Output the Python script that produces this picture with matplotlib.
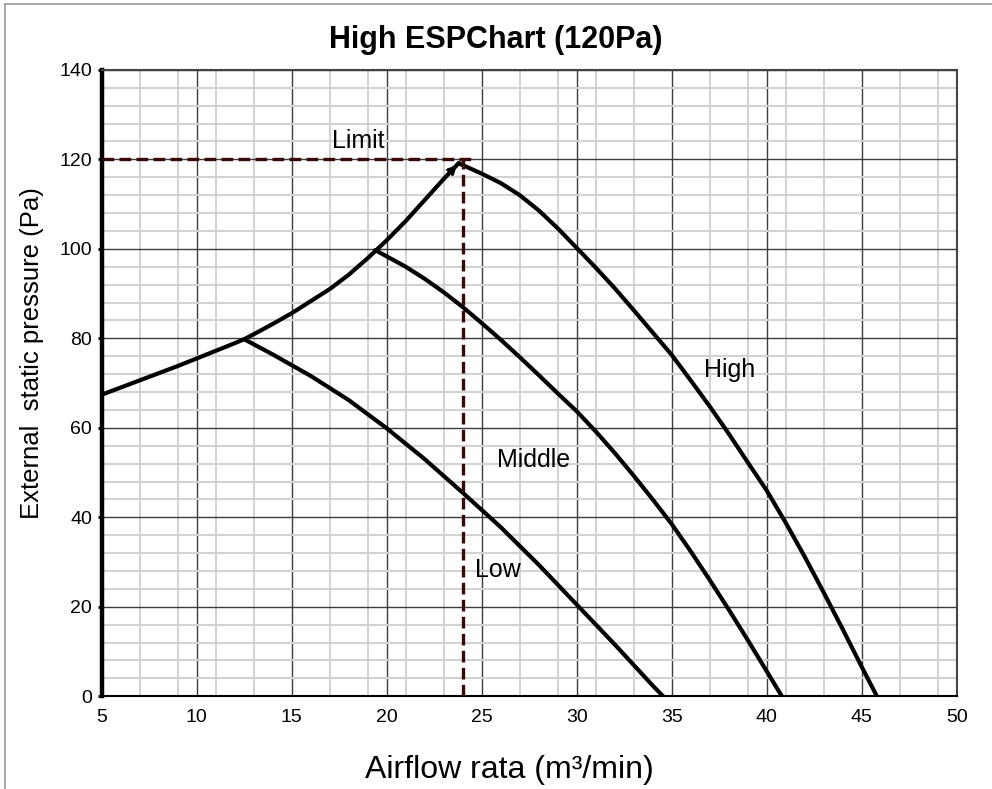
import matplotlib

matplotlib.use("Agg")

import matplotlib.pyplot as plt
from matplotlib.lines import Line2D
from matplotlib.ticker import FixedLocator, MultipleLocator

plt.rcParams["font.family"] = ["Liberation Sans", "DejaVu Sans"]

# envelope (max pressure at each fan tap) up to the 120 Pa limit
limit_x = [5, 6, 7, 8, 9, 10, 11, 12, 12.5, 13, 14, 15, 16, 17, 18, 19, 20, 21, 22, 23, 23.8]
limit_y = [67.4, 69.0, 70.6, 72.2, 73.8, 75.5, 77.2, 78.9, 79.8, 80.9, 83.2, 85.6, 88.3,
           91.0, 94.2, 97.9, 101.9, 106.2, 110.9, 115.6, 119.2]

low_x = [12.5, 14, 16, 18, 20, 22, 24, 26, 28, 30, 32, 34, 34.55]
low_y = [79.8, 76.4, 71.6, 66.2, 59.9, 53.0, 45.5, 37.8, 29.4, 20.5, 11.6, 2.4, 0.0]

mid_x = [19.4, 21, 22, 23, 24, 25, 26, 27, 28, 29, 30, 31, 32, 33, 34, 35, 36, 37, 38,
         39, 40, 40.8]
mid_y = [99.7, 96.0, 93.3, 90.3, 87.0, 83.4, 79.7, 75.8, 71.8, 67.7, 63.7, 59.2, 54.4,
         49.3, 44.0, 38.5, 32.4, 26.0, 19.4, 12.6, 5.6, 0.0]

high_x = [23.85, 25, 26, 27, 28, 29, 30, 31, 32, 33, 34, 35, 36, 37, 38, 39, 40, 41, 42,
          43, 44, 45, 45.8]
high_y = [119.0, 116.8, 114.7, 112.0, 108.6, 104.6, 100.2, 95.8, 91.2, 86.3, 81.3, 76.3,
          70.6, 64.8, 58.7, 52.3, 46.0, 38.8, 31.2, 23.2, 15.0, 6.6, 0.0]

limit_flow = 24.0
limit_pa = 120.0
limit_line_end = 24.7

x_ticks = [5, 10, 15, 20, 25, 30, 35, 40, 45, 50]
y_ticks = [0, 20, 40, 60, 80, 100, 120, 140]
x_minor = [7, 9, 11, 13, 17, 19, 21, 23, 27, 29, 31, 33, 37, 39, 41, 43, 47, 49]

fig = plt.figure(figsize=(9.92, 7.89), dpi=100)
ax = fig.add_axes([0.1025, 0.1175, 0.8619, 0.794])

ax.set_xlim(5, 50)
ax.set_ylim(0, 140)
ax.set_xticks(x_ticks)
ax.set_yticks(y_ticks)
ax.xaxis.set_minor_locator(FixedLocator(x_minor))
ax.yaxis.set_minor_locator(MultipleLocator(4))

ax.set_axisbelow(True)
ax.grid(which="minor", color="#d2d2d2", linewidth=1.5)
ax.grid(which="major", color="#3c3c3c", linewidth=1.0)

ax.tick_params(axis="x", which="major", length=0, pad=9, labelsize=14)
ax.tick_params(axis="y", which="major", length=3, width=2, pad=4, labelsize=14)
ax.tick_params(which="minor", length=0)

ax.spines["left"].set_linewidth(3.2)
ax.spines["left"].set_color("black")
ax.spines["bottom"].set_linewidth(1.5)
ax.spines["bottom"].set_color("black")
for side in ("top", "right"):
    ax.spines[side].set_linewidth(1.5)
    ax.spines[side].set_color("#444444")

curve_style = dict(color="black", linewidth=3.0, solid_capstyle="round", solid_joinstyle="round")
ax.plot(limit_x, limit_y, **curve_style)
ax.plot(low_x, low_y, **curve_style)
ax.plot(mid_x, mid_y, **curve_style)
ax.plot(high_x, high_y, **curve_style)
ax.annotate(
    "",
    xy=(limit_x[-1], limit_y[-1]),
    xytext=(limit_x[-2], limit_y[-2]),
    arrowprops=dict(arrowstyle="->", color="black", lw=2.2, mutation_scale=12),
)

dash_color = "#3a0808"
ax.plot([5, limit_line_end], [limit_pa, limit_pa], color=dash_color, linewidth=2.4,
        dashes=(3.5, 1.6), zorder=4)
ax.plot([limit_flow, limit_flow], [0, limit_pa], color=dash_color, linewidth=2.4,
        dashes=(3.5, 1.6), zorder=4)

label_size = 18
ax.text(18.5, 124.1, "Limit", fontsize=label_size, ha="center", va="center")
ax.text(38.05, 73.0, "High", fontsize=label_size, ha="center", va="center")
ax.text(27.74, 52.8, "Middle", fontsize=label_size, ha="center", va="center")
ax.text(25.84, 28.3, "Low", fontsize=label_size, ha="center", va="center")

fig.text(0.5, 1 - 40 / 789, "High ESPChart (120Pa)", fontsize=22, fontweight="bold",
         ha="center", va="center")
fig.text(509 / 992, 1 - 770 / 789, "Airflow rata (m³/min)", fontsize=23,
         ha="center", va="center")
fig.text(32 / 992, 1 - 353 / 789, "External  static pressure (Pa)", fontsize=18.5,
         rotation=90, ha="center", va="center")

# thin grey frame along the top and left edge of the picture
fig.add_artist(Line2D([5 / 992, 1], [1 - 4 / 789, 1 - 4 / 789], color="#999999", linewidth=1.2))
fig.add_artist(Line2D([5 / 992, 5 / 992], [0, 1 - 4 / 789], color="#999999", linewidth=1.2))

fig.savefig("out.png", dpi=100)
plt.close(fig)
